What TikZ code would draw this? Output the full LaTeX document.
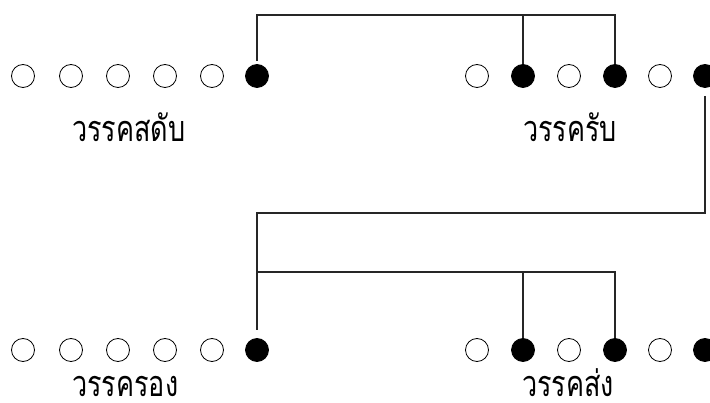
\documentclass[tikz,border=0pt]{standalone}
\usepackage{fontspec}
\newfontfamily\thaifont[Script=Thai]{Loma}
\usepackage{tikz}
\usetikzlibrary{positioning}
\usetikzlibrary{calc}
\tikzstyle{hole} = [draw, circle, minimum size = 23pt, inner sep = 0pt, line width = 0.8pt]
\tikzstyle{dot} = [hole, fill = black]
\tikzstyle{link} = [line width = 1.1pt, black!85]
\tikzstyle{verse} = [inner sep = 0pt, text depth = 0pt, font = \thaifont\fontsize{36}{40}\selectfont]
\newcommand{\narrow}[1]{\scalebox{0.75}[1]{#1}}

\begin{document}
\begin{tikzpicture}[x = 1pt, y = -1pt]
	\useasboundingbox (0,0) rectangle (710,403);
	
		% Wak sadap and wak rap
		\foreach \i/\x/\s in {1/23/hole, 2/71/hole, 3/118/hole, 4/165/hole, 5/212/hole, 6/257/dot}
			\node[\s] (s\i) at (\x, 76) {};
		\foreach \i/\x/\s in {1/477/hole, 2/523/dot, 3/569/hole, 4/615/dot, 5/660/hole, 6/705/dot}
			\node[\s] (r\i) at (\x, 76) {};
		\node[verse, anchor = base west] (sadap) at (72, 142) {\narrow{วรรคสดับ}};
		\node[verse, anchor = base] (rap) at (570, 142) {\narrow{วรรครับ}};
		
		% Wak rong and wak song
		\foreach \i/\x/\s in {1/23/hole, 2/71/hole, 3/118/hole, 4/165/hole, 5/212/hole, 6/257/dot}
			\node[\s] (o\i) at (\x, 350) {};
		\foreach \i/\x/\s in {1/477/hole, 2/523/dot, 3/569/hole, 4/615/dot, 5/660/hole, 6/705/dot}
			\node[\s] (g\i) at (\x, 350) {};
		\node[verse, anchor = base west] (rong) at (72, 397) {\narrow{วรรครอง}};
		\node[verse, anchor = base] (song) at (568, 397) {\narrow{วรรคส่ง}};
		
		% Rhyme bars
		\coordinate (topbar) at (0, 15);
		\coordinate (midbar) at (0, 213);
		\coordinate (lowbar) at (0, 272);
		
		% Connect the rhyming syllables
		\draw[link] ([yshift = 3pt]s6.north) -- (s6 |- topbar) -| (r4.north);
		\draw[link] (r2 |- topbar) -- (r2.north);
		\draw[link] ([yshift = -8pt]r6.south) -- (r6 |- midbar) -| ([yshift = 8pt]o6.north);
		\draw[link] (o6 |- lowbar) -| (g4.north);
		\draw[link] (g2 |- lowbar) -- (g2.north);
		
	\end{tikzpicture}
\end{document}
